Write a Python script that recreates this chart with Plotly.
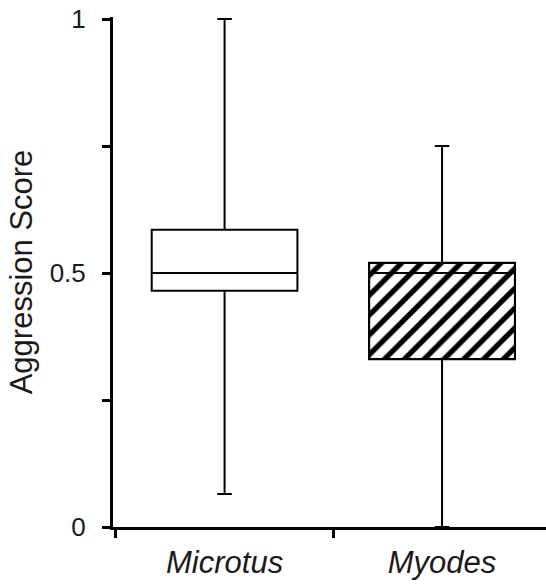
import plotly.graph_objects as go

# Summary statistics of aggression scores per genus
species = ["Microtus", "Myodes"]
lower_whisker = [0.065, 0.0]
q1 = [0.465, 0.33]
median = [0.5, 0.5]
q3 = [0.585, 0.52]
upper_whisker = [1.0, 0.75]
hatched = [False, True]

y_tickvals = [0, 0.25, 0.5, 0.75, 1]
y_ticktext = ["0", "", "0.5", "", "1"]

FONT = "Liberation Sans, Arial, sans-serif"
TEXT = "#1a1a1a"
BOX_W = 0.67

fig = go.Figure()

# Hatched fill underneath the boxes that need it
for name, lo, hi, h in zip(species, q1, q3, hatched):
    if h:
        fig.add_trace(go.Bar(
            x=[name], y=[hi - lo], base=[lo], width=BOX_W,
            marker=dict(color="white",
                        line=dict(color="black", width=2),
                        pattern=dict(shape="/", fgcolor="#000000", bgcolor="white",
                                     size=14, solidity=0.38, fgopacity=1)),
            showlegend=False, hoverinfo="skip",
        ))

# Box-and-whisker outlines
for name, lw, a, m, b, uw, h in zip(species, lower_whisker, q1, median, q3,
                                     upper_whisker, hatched):
    fig.add_trace(go.Box(
        x=[name], q1=[a], median=[m], q3=[b],
        lowerfence=[lw], upperfence=[uw],
        width=BOX_W, whiskerwidth=0.1,
        fillcolor="rgba(0,0,0,0)" if h else "white",
        line=dict(color="black", width=2),
        showlegend=False, boxpoints=False,
    ))

fig.update_layout(
    width=546, height=587,
    margin=dict(l=113, r=0, t=17, b=60),
    plot_bgcolor="white", paper_bgcolor="white",
    font=dict(family=FONT, color=TEXT),
    bargap=0,
)

fig.update_xaxes(
    type="category", categoryorder="array", categoryarray=species,
    range=[-0.513, 1.478],
    showline=True, linecolor="black", linewidth=3,
    ticks="outside", tickson="boundaries", ticklen=8, tickwidth=3,
    tickcolor="black", showgrid=False, zeroline=False,
    ticklabelstandoff=6,
    tickfont=dict(size=31, style="italic", family=FONT, color=TEXT),
)

fig.update_yaxes(
    range=[0, 1.004],
    tickvals=y_tickvals, ticktext=y_ticktext,
    showline=True, linecolor="black", linewidth=3,
    ticks="outside", ticklen=8, tickwidth=3, tickcolor="black",
    showgrid=False, zeroline=False,
    ticklabelstandoff=11,
    tickfont=dict(size=26, family=FONT, color=TEXT),
    title=dict(text="Aggression Score", font=dict(size=31, family=FONT, color=TEXT),
               standoff=8),
)

fig.write_html("out.html")
